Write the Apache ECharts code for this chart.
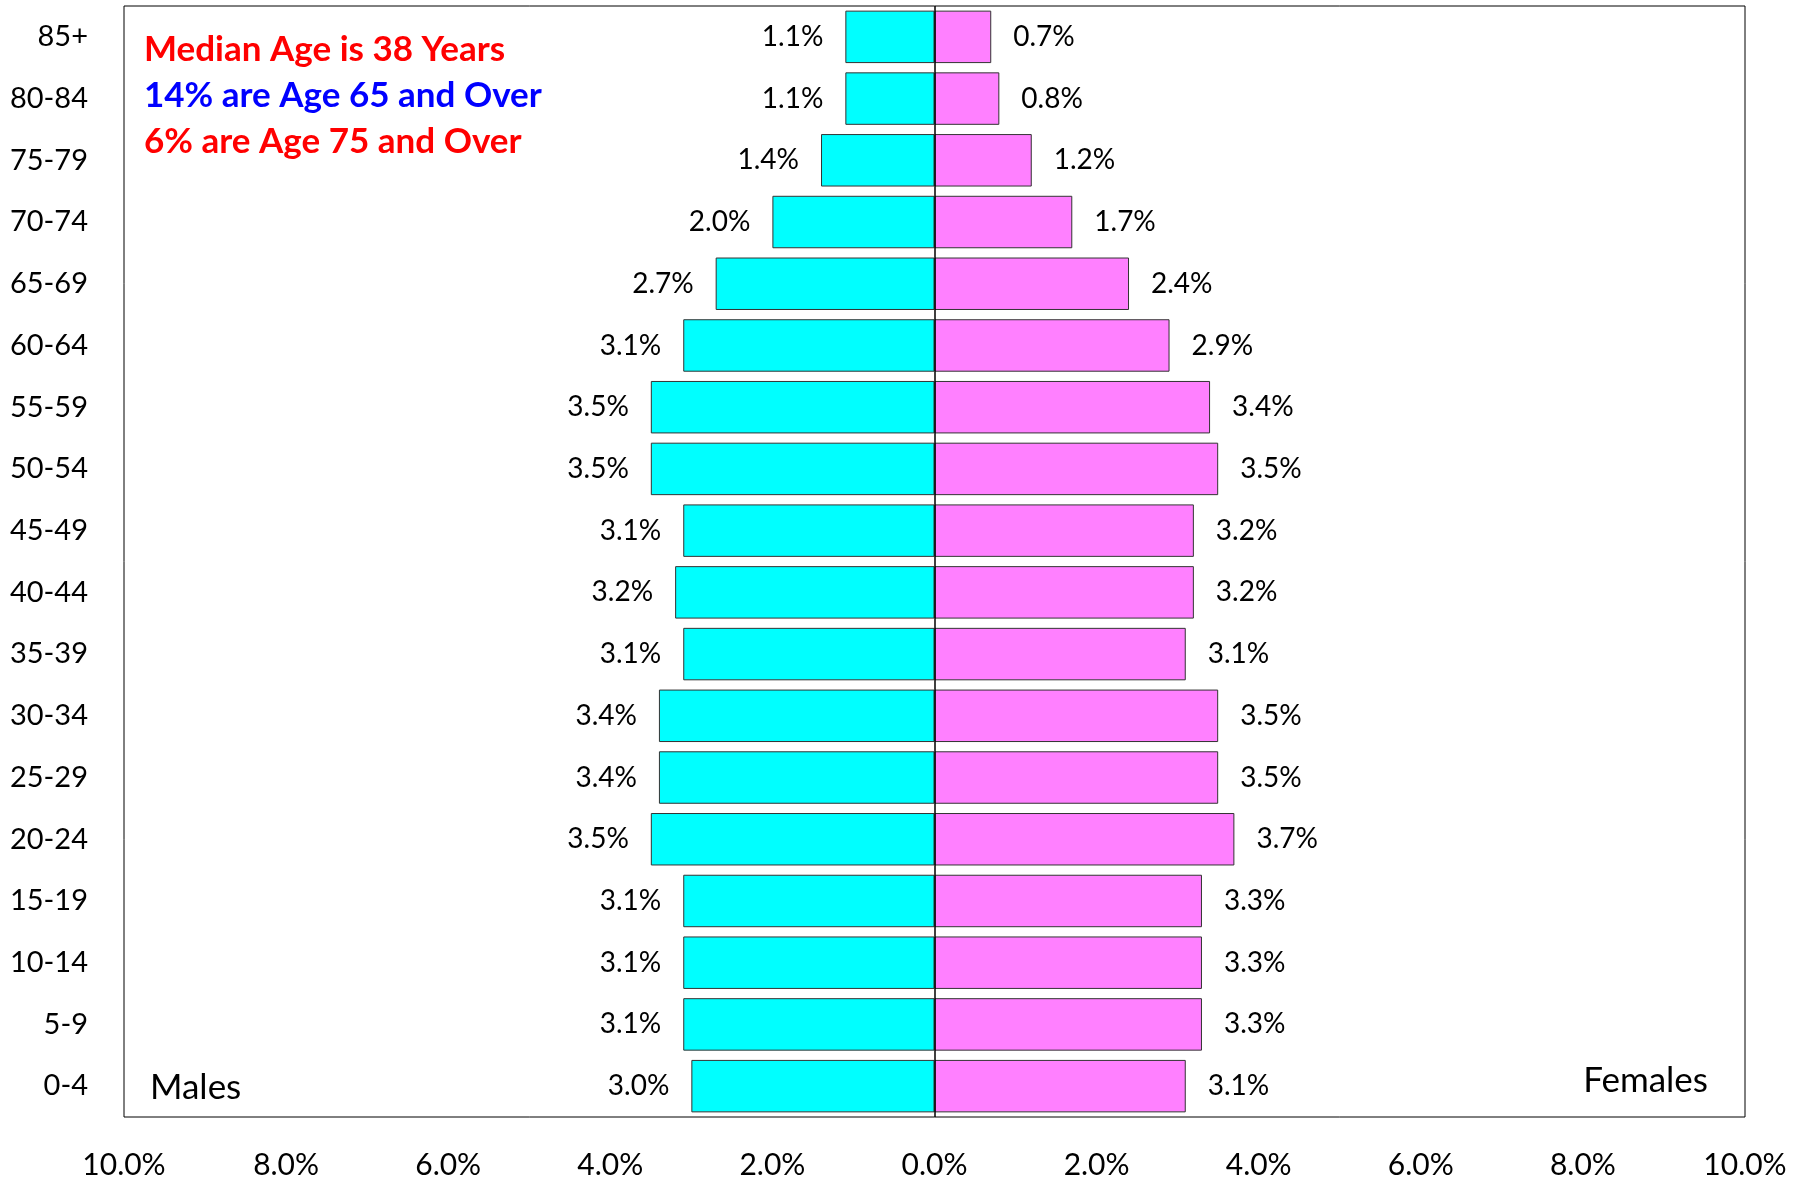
<!DOCTYPE html>
<html>
<head>
<meta charset="utf-8">
<script src="https://cdn.jsdelivr.net/npm/echarts@6/dist/echarts.min.js"></script>
<style>
  html, body { margin: 0; padding: 0; background: #fff; }
  #pyramid { width: 1808px; height: 1180px; }
</style>
</head>
<body>
<div id="pyramid"></div>
<script>
// age groups, top of the chart first
var ageGroups = ['85+', '80-84', '75-79', '70-74', '65-69', '60-64', '55-59', '50-54', '45-49',
  '40-44', '35-39', '30-34', '25-29', '20-24', '15-19', '10-14', '5-9', '0-4'];
var males = [1.1, 1.1, 1.4, 2.0, 2.7, 3.1, 3.5, 3.5, 3.1, 3.2, 3.1, 3.4, 3.4, 3.5, 3.1, 3.1, 3.1, 3.0];
var females = [0.7, 0.8, 1.2, 1.7, 2.4, 2.9, 3.4, 3.5, 3.2, 3.2, 3.1, 3.5, 3.5, 3.7, 3.3, 3.3, 3.3, 3.1];
var notes = ['Median Age is 38 Years', '14% are Age 65 and Over', '6% are Age 75 and Over'];
var noteColors = ['#ff0000', '#0000ff', '#ff0000'];

var font = 'Lato';
var pct = function (v) { return Math.abs(v).toFixed(1) + '%'; };

var dom = document.getElementById('pyramid'), myChart = echarts.init(dom);

var option = {
  animation: false,
  backgroundColor: '#fff',
  grid: { left: 124, right: 63, top: 6, bottom: 60, show: true, borderColor: '#000', borderWidth: 1 },
  xAxis: {
    type: 'value', min: -10, max: 10, interval: 2,
    axisLine: { show: false }, axisTick: { show: false }, splitLine: { show: false },
    axisLabel: { formatter: pct, margin: 33, fontSize: 30, color: '#000', fontFamily: font }
  },
  yAxis: {
    type: 'category', data: ageGroups, inverse: true,
    axisLine: { show: false }, axisTick: { show: false },
    axisLabel: { margin: 36, fontSize: 29, color: '#000', fontFamily: font, padding: [5, 0, 0, 0] }
  },
  series: [{
    name: 'Males', type: 'bar', barGap: '-100%', barCategoryGap: '15%',
    data: males.map(function (v) { return -v; }),
    itemStyle: { color: '#00ffff', borderColor: '#333', borderWidth: 1 },
    label: { show: true, position: 'left', distance: 22, formatter: function (p) { return pct(p.value); },
      fontSize: 28, color: '#000', fontFamily: font, padding: [4, 0, 0, 0] },
    markLine: {
      silent: true, symbol: 'none', label: { show: false },
      lineStyle: { color: '#000', width: 1.5, type: 'solid' },
      data: [{ xAxis: 0 }]
    }
  }, {
    name: 'Females', type: 'bar', barCategoryGap: '15%',
    data: females,
    itemStyle: { color: '#ff80ff', borderColor: '#333', borderWidth: 1 },
    label: { show: true, position: 'right', distance: 22, formatter: function (p) { return pct(p.value); },
      fontSize: 28, color: '#000', fontFamily: font, padding: [4, 0, 0, 0] }
  }],
  graphic: notes.map(function (t, i) {
    return { type: 'text', left: 144, top: 32 + i * 46,
      style: { text: t, fill: noteColors[i], fontSize: 35, fontWeight: 'bold', fontFamily: font } };
  }).concat([
    { type: 'text', left: 150, top: 1070, style: { text: 'Males', fill: '#000', fontSize: 35, fontFamily: font } },
    { type: 'text', right: 100, top: 1063, style: { text: 'Females', fill: '#000', fontSize: 35, fontFamily: font } }
  ])
};
option && typeof option === 'object' && myChart.setOption(option, true);
</script>
</body>
</html>
